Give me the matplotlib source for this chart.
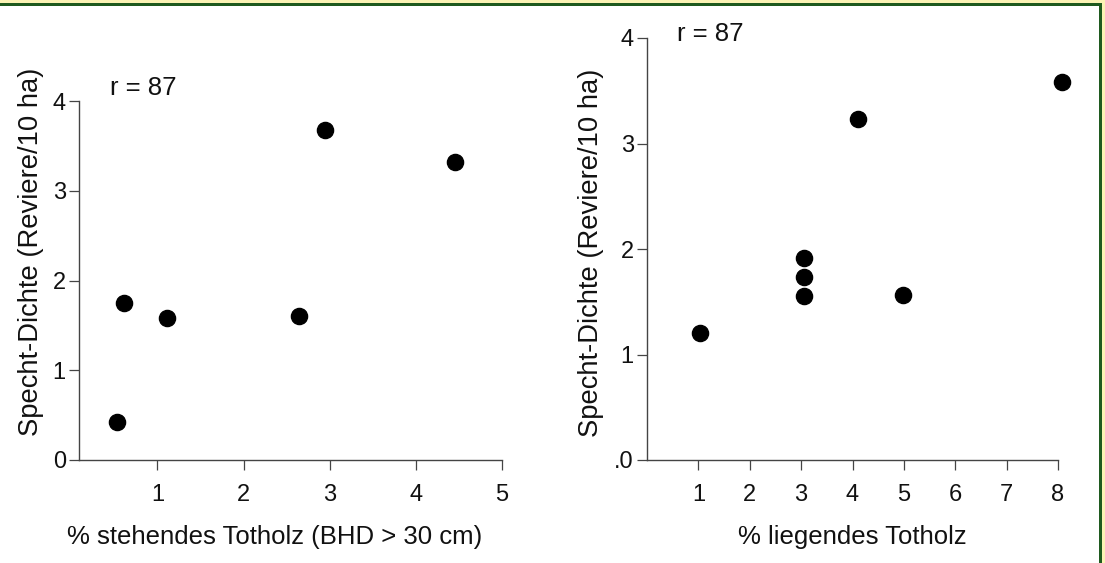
import matplotlib
matplotlib.use("Agg")
import matplotlib.pyplot as plt
from matplotlib.patches import Rectangle

plt.rcParams['font.family'] = ['Liberation Sans', 'DejaVu Sans']

# data
stehend_x = [0.53, 0.61, 1.11, 2.64, 2.95, 4.45]
stehend_y = [0.42, 1.75, 1.58, 1.60, 3.68, 3.32]

liegend_x = [1.03, 3.05, 3.05, 3.05, 4.99, 4.10, 8.08]
liegend_y = [1.20, 1.91, 1.73, 1.55, 1.56, 3.23, 3.58]

left_xticks = [1, 2, 3, 4, 5]
right_xticks = [1, 2, 3, 4, 5, 6, 7, 8]
yticks = [0, 1, 2, 3, 4]
left_ylabels = ['0', '1', '2', '3', '4']
right_ylabels = ['.0', '1', '2', '3', '4']

ylabel = 'Specht-Dichte (Reviere/10 ha)'
r_text = 'r = 87'

W, H = 1105, 563
fig = plt.figure(figsize=(W / 100, H / 100), dpi=100)
fig.patch.set_facecolor('white')


def px_axes(l, r, t, b):
    return fig.add_axes([l / W, 1 - b / H, (r - l) / W, (b - t) / H])


def style(ax):
    for s in ['top', 'right']:
        ax.spines[s].set_visible(False)
    for s in ['left', 'bottom']:
        ax.spines[s].set_color('#444444')
        ax.spines[s].set_linewidth(1.0)
    ax.tick_params(axis='both', labelsize=17, length=7, width=0.9,
                   color='#444444', labelcolor='#111111')
    ax.tick_params(axis='x', pad=10)
    ax.tick_params(axis='y', pad=2.5)
    ax.set_facecolor('none')


# left panel
ax1 = px_axes(79, 502, 101, 460)
ax1.scatter(stehend_x, stehend_y, s=135, color='black', zorder=3, clip_on=False)
ax1.set_xlim(0.09, 5)
ax1.set_ylim(0, 4)
ax1.set_xticks(left_xticks)
ax1.set_yticks(yticks)
ax1.set_yticklabels(left_ylabels)
style(ax1)
ax1.set_xlabel('% stehendes Totholz (BHD > 30 cm)', fontsize=18.5, x=0.463,
               labelpad=14, color='#111111')
ax1.set_ylabel(ylabel, fontsize=19.7, y=0.58, labelpad=6, color='#111111')
ax1.text(0.073, 1.036, r_text, transform=ax1.transAxes, fontsize=18.5,
         va='center', ha='left', color='#111111')

# right panel
ax2 = px_axes(647, 1058, 38, 460)
ax2.scatter(liegend_x, liegend_y, s=135, color='black', zorder=3, clip_on=False)
ax2.set_xlim(0, 8)
ax2.set_ylim(0, 4)
ax2.set_xticks(right_xticks)
ax2.set_yticks(yticks)
ax2.set_yticklabels(right_ylabels)
style(ax2)
ax2.set_xlabel('% liegendes Totholz', fontsize=18.5, labelpad=14, color='#111111')
ax2.set_ylabel(ylabel, fontsize=19.7, y=0.49, labelpad=7, color='#111111')
ax2.text(0.073, 1.009, r_text, transform=ax2.transAxes, fontsize=18.5,
         va='center', ha='left', color='#111111')

# frame of the scan: yellow band and green line at top and right
yellow = '#fbf3b4'
green = '#1f5a1f'
fig.add_artist(Rectangle((0, 1 - 3 / H), 1, 3 / H, transform=fig.transFigure,
                         color=yellow, lw=0))
fig.add_artist(Rectangle((0, 1 - 5.5 / H), 1, 2.5 / H, transform=fig.transFigure,
                         color=green, lw=0))
fig.add_artist(Rectangle((1102 / W, 0), 3 / W, 1, transform=fig.transFigure,
                         color=yellow, lw=0))
fig.add_artist(Rectangle((1099 / W, 0), 3 / W, 1 - 3 / H, transform=fig.transFigure,
                         color=green, lw=0))

fig.savefig('out.png', dpi=100)
